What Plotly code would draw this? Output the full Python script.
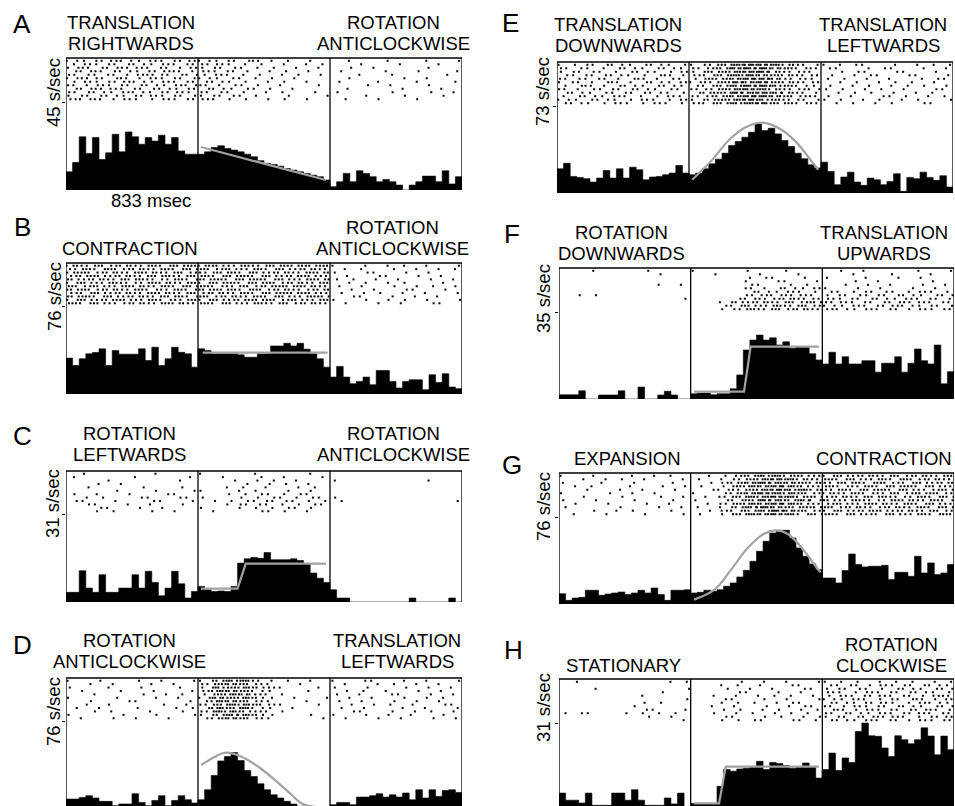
import plotly.graph_objects as go

# ---------------- DATA ----------------
SECTION_MS = 2500.0 / 3          # each stimulus epoch = 833 msec
N_BINS = 60
BIN_MS = 2500.0 / N_BINS
RASTER_WIN_MS = 2500.0 / 30

panel_ids = ["A", "B", "C", "D", "E", "F", "G", "H"]
full_scale = [45, 76, 31, 76, 73, 35, 76, 31]           # s/sec at the scale tick
scale_text = ["45 s/sec", "76 s/sec", "31 s/sec", "76 s/sec",
              "73 s/sec", "35 s/sec", "76 s/sec", "31 s/sec"]
title_left = [["TRANSLATION", "RIGHTWARDS"], ["CONTRACTION"], ["ROTATION", "LEFTWARDS"],
              ["ROTATION", "ANTICLOCKWISE"], ["TRANSLATION", "DOWNWARDS"],
              ["ROTATION", "DOWNWARDS"], ["EXPANSION"], ["STATIONARY"]]
title_right = [["ROTATION", "ANTICLOCKWISE"], ["ROTATION", "ANTICLOCKWISE"],
               ["ROTATION", "ANTICLOCKWISE"], ["TRANSLATION", "LEFTWARDS"],
               ["TRANSLATION", "LEFTWARDS"], ["TRANSLATION", "UPWARDS"],
               ["CONTRACTION"], ["ROTATION", "CLOCKWISE"]]
time_label = "833 msec"

# peri-stimulus histograms (s/sec), 60 bins: 20 per epoch
hist_A = [9.3, 14.1, 27.2, 18.7, 26.8, 15.6, 19.0, 28.5, 19.5, 29.7, 27.2, 23.4, 26.8, 25.0, 28.0, 23.4, 26.8, 20.0, 18.3, 18.3,
          18.3, 19.5, 21.7, 22.6, 21.2, 20.4, 19.5, 18.3, 17.0, 15.0, 13.6, 13.1, 12.2, 11.0, 10.2, 9.3, 8.5, 7.6, 6.8, 5.1,
          1.7, 4.2, 8.5, 4.2, 9.8, 8.5, 6.8, 4.2, 5.4, 4.2, 2.5, 0.0, 2.5, 4.2, 7.1, 7.1, 4.2, 9.8, 3.1, 6.8]
hist_B = [31.0, 24.6, 30.4, 34.7, 35.8, 39.0, 24.6, 37.5, 34.4, 34.4, 34.4, 39.0, 28.9, 40.4, 24.6, 30.4, 40.4, 36.0, 34.7, 23.2,
          39.0, 37.5, 34.7, 34.7, 34.7, 34.7, 33.8, 31.8, 31.8, 34.7, 34.7, 41.5, 41.5, 43.8, 41.5, 43.8, 38.7, 34.7, 30.4, 23.2,
          14.6, 23.8, 14.6, 8.9, 10.9, 14.6, 8.0, 20.3, 20.3, 10.9, 5.2, 10.9, 12.3, 12.3, 3.7, 16.6, 10.0, 17.5, 6.0, 4.6]
hist_C = [3.4, 3.4, 11.0, 4.9, 3.4, 9.6, 3.4, 3.4, 4.9, 4.9, 9.6, 4.9, 10.8, 6.9, 2.2, 4.9, 10.8, 6.4, 1.4, 3.7,
          5.5, 4.3, 3.7, 3.9, 3.7, 5.5, 13.7, 15.2, 15.7, 15.4, 17.4, 14.9, 14.9, 14.9, 15.2, 14.6, 13.5, 10.2, 8.4, 6.9,
          4.3, 1.4, 1.4, 0.0, 0.0, 0.0, 0.0, 0.0, 0.0, 0.0, 0.0, 0.0, 1.4, 0.0, 0.0, 0.0, 0.0, 0.0, 1.4, 0.0]
hist_D = [8.6, 8.6, 10.0, 11.5, 9.5, 6.6, 6.6, 2.9, 4.3, 4.3, 13.2, 5.7, 2.9, 7.4, 11.5, 2.9, 7.4, 11.5, 8.0, 5.2,
          8.0, 16.6, 29.0, 41.5, 45.3, 48.7, 41.8, 33.2, 28.0, 21.8, 16.6, 12.3, 9.5, 6.6, 4.3, 2.3, 0.9, 0.5, 0.3, 0.3,
          3.7, 5.7, 5.7, 3.7, 10.3, 10.3, 11.5, 13.2, 10.3, 12.3, 10.3, 13.8, 8.0, 16.6, 9.5, 16.6, 10.9, 16.0, 16.6, 14.3]
hist_E = [20.3, 25.0, 13.9, 13.1, 12.0, 9.2, 12.5, 18.9, 12.5, 20.3, 12.5, 21.7, 19.5, 11.1, 13.4, 13.9, 15.3, 16.7, 23.1, 16.7,
          15.3, 16.7, 20.3, 24.5, 28.4, 33.4, 39.8, 43.2, 46.8, 51.0, 57.9, 52.4, 54.3, 49.6, 44.0, 39.0, 33.4, 28.7, 23.7, 21.0,
          25.9, 18.1, 7.0, 13.4, 17.5, 9.2, 6.4, 12.5, 11.1, 7.0, 9.7, 16.2, 1.4, 13.1, 12.0, 17.5, 13.1, 10.6, 14.5, 5.0]
hist_F = [1.7, 1.7, 1.7, 3.3, 0.0, 0.0, 1.6, 1.6, 1.6, 3.3, 0.0, 0.0, 4.8, 0.0, 0.0, 1.6, 3.1, 1.6, 0.0, 0.0,
          2.1, 2.4, 2.4, 1.7, 2.1, 2.1, 4.1, 9.7, 19.7, 23.7, 25.7, 23.7, 24.6, 21.7, 23.0, 20.4, 21.0, 21.0, 18.2, 15.7,
          14.1, 18.8, 14.1, 17.0, 14.1, 14.1, 15.4, 15.4, 10.8, 14.4, 14.4, 17.0, 10.8, 14.4, 20.1, 15.4, 14.1, 21.7, 6.1, 11.0]
hist_G = [9.0, 3.2, 5.2, 5.8, 12.0, 12.0, 7.6, 8.7, 9.6, 10.5, 8.2, 9.6, 12.0, 9.6, 14.0, 8.2, 3.2, 12.0, 12.0, 12.5,
          9.6, 10.2, 12.0, 11.1, 12.5, 15.5, 18.4, 23.6, 29.4, 37.3, 46.0, 54.8, 62.0, 64.4, 64.4, 57.7, 49.0, 41.7, 35.0, 30.0,
          22.7, 22.7, 18.4, 29.2, 43.7, 34.4, 32.4, 33.0, 33.0, 33.8, 21.3, 27.7, 27.7, 24.2, 41.7, 27.1, 35.9, 25.7, 27.1, 34.4]
hist_H = [6.3, 3.8, 3.8, 2.8, 6.3, 2.0, 2.0, 2.0, 6.3, 6.3, 3.8, 7.5, 3.8, 2.0, 2.0, 2.0, 4.6, 2.5, 6.3, 1.5,
          2.6, 2.6, 2.6, 2.6, 8.7, 14.6, 14.0, 14.8, 15.1, 15.7, 17.5, 14.6, 17.1, 16.7, 16.0, 15.1, 15.5, 16.9, 15.7, 11.6,
          14.6, 20.4, 14.3, 18.7, 17.1, 28.0, 31.0, 26.5, 26.3, 22.2, 19.2, 26.5, 25.1, 23.7, 25.1, 29.3, 26.4, 19.8, 26.4, 21.6]

# fitted responses in the middle epoch (time ms, s/sec)
fit_A_t = [852, 1641];                 fit_A_v = [22.0, 5.1]
fit_B_t = [863, 1651];                 fit_B_v = [35.7, 35.7]
fit_C_t = [852, 1083, 1135, 1641];     fit_C_v = [4.7, 4.7, 13.5, 13.5]
fit_D_t = [853, 941, 1004, 1109, 1214, 1320, 1425, 1498, 1656]
fit_D_v = [38.0, 45.2, 48.6, 45.2, 36.5, 25.0, 12.1, 4.0, 1.0]
fit_E_t = [854, 980, 1086, 1191, 1296, 1401, 1507, 1612, 1649]
fit_E_v = [11.1, 27.8, 44.5, 55.1, 59.0, 54.3, 43.1, 25.8, 19.5]
fit_F_t = [854, 1171, 1213, 1645];     fit_F_v = [3.0, 3.0, 21.1, 21.1]
fit_G_t = [855, 984, 1089, 1194, 1298, 1372, 1446, 1529, 1613, 1655]
fit_G_v = [3.8, 12.5, 30.0, 48.9, 61.4, 64.3, 61.4, 50.3, 35.2, 27.6]
fit_H_t = [854, 1013, 1055, 1645];     fit_H_v = [2.7, 2.7, 15.6, 15.6]
fit_smooth = [False, False, False, True, True, False, True, False]

# rasters: 12 trials, spike counts per 83-msec window (30 windows; | separates epochs)
raster_A = ["2122212122|2121211010|0100100101", "1212121212|2211101011|0010010010",
            "2212221212|1211110101|0101000100", "1221212221|2121011010|1000101001",
            "2112122212|1211101101|0010100010", "2221212121|2111110100|0100010100",
            "1212221212|1211011010|1001001001", "2121212122|2111101001|0010100100",
            "1222121212|1211110100|0100010010", "2121221221|2111011010|1000100101",
            "1212122121|1211101001|0010010010", "2221211212|2111011010|0101001000"]
raster_B = ["3232323233|3323233333|1010110101", "2323232323|3232323232|0110101011",
            "3323233232|2332323233|1011010100", "2332323323|3233232332|0101101010",
            "3232332232|3323323233|1101010101", "2323223323|2332332323|0110110010",
            "3232332323|3223233332|1010101101", "3323232232|3332323223|0101011010",
            "2232323323|2323233332|1011010101", "3323232332|3232323233|0110101010",
            "2323323223|2323332323|1010110101", "3232232332|3232323232|0101010110"]
raster_C = ["0100001000|1000100010|0000000000", "1000010001|0100101001|0000000000",
            "0001000010|0010110100|1000000100", "0010100000|0001011010|0000000000",
            "0100010010|0011010110|0000000000", "0001001001|1001101010|0000000000",
            "1010100110|0011111110|0000000000", "0110011011|1001111111|1000000000",
            "1101001101|0111121111|1000000001", "0110101010|0012111111|0000000000",
            "0011010100|1001111110|0000000000", "0011001010|0100111010|0000000000"]
raster_D = ["1010010101|1344211010|1011010101", "0101001010|2343210100|0101101010",
            "1001010010|1434321001|1010010101", "0100101001|2443210010|0110101010",
            "0010010110|1344211000|1010110101", "1001001010|2434310101|0101010110",
            "0100110001|1443210010|1010101010", "0101000101|2344321001|0101101011",
            "1010010011|1434210100|1010010101", "0011001010|2443211000|0110101101",
            "1000101001|1344310010|1010101010", "0101010100|1343210001|0101010101"]
raster_E = ["1121211211|1234554321|1111010111", "2111121121|2235554322|1101110101",
            "1211112112|1334553221|0111011010", "1121211121|2234543322|1011101101",
            "2112112111|1334554221|1101010111", "1211211212|2235453322|0110111010",
            "1121121121|1234554321|1011011101", "2111212111|2234543222|1101101011",
            "1211121211|1335454321|0111010110", "1121211121|2234554322|1010111011",
            "2112112112|1334543221|1101101101", "1211211211|2234453322|0110110110"]
raster_F = ["0010001000|1000100100|0101000101", "0000000100|0100010010|0010010010",
            "0000000000|0000111010|1001010100", "0000000000|0000101101|0010100010",
            "0000000101|0000110110|0101010101", "0000000000|0000211212|1010101010",
            "0000000000|0000121211|1112111211", "0110000000|0000222221|1211212112",
            "0000000001|0001222322|2121212121", "0000000000|0013232323|2212122212",
            "0000000000|0012323232|2121222121", "0000000000|0012323232|2212121212"]
raster_G = ["1010010110|0112344332|2323232323", "0101101001|1012345432|3232323232",
            "1001010010|0123454433|2332322323", "0110010101|1013445432|3223233232",
            "0010101010|0122345443|2323323223", "1001010100|1013454432|3232232332",
            "0100100101|0123445433|2323322323", "1010010010|1012354342|3232233232",
            "0101001010|0123445432|2323323232", "1000100101|1013454333|3232232323",
            "0010110010|0122345432|2323323232", "0101001001|1013445423|3232232323"]
raster_H = ["0100000011|0001010101|1110111011", "0000000000|0011010110|1121212121",
            "0010000001|0010101011|1211112112", "0000000100|0001101010|2112121211",
            "0000001000|0101011101|1212212122", "0000000001|0011010101|2121121212",
            "0000001100|0011101110|1212211221", "0000010000|0101010111|2121212112",
            "0000001101|0011011011|1212121221", "1110011110|0101101110|2121212212",
            "0000001010|0011011011|1212221122", "0000000001|0011110111|1212121212"]

hists = [hist_A, hist_B, hist_C, hist_D, hist_E, hist_F, hist_G, hist_H]
fits = [(fit_A_t, fit_A_v), (fit_B_t, fit_B_v), (fit_C_t, fit_C_v), (fit_D_t, fit_D_v),
        (fit_E_t, fit_E_v), (fit_F_t, fit_F_v), (fit_G_t, fit_G_v), (fit_H_t, fit_H_v)]
rasters = [raster_A, raster_B, raster_C, raster_D, raster_E, raster_F, raster_G, raster_H]

# ---------------- LAYOUT (pixel geometry, style only) ----------------
W, H = 955, 806
FONT = "Liberation Sans, Arial, Helvetica, sans-serif"
geom = [  # x0, x3, top, tick, base, letter(x,y), scale(x,y), titleLx, titleRx, title baseline
    dict(x0=66, x3=462, top=58, tick=102, base=190, let=(22, 24), sc=(53, 93), tl=131, tr=393, tb=50),
    dict(x0=66, x3=462, top=263, tick=306, base=394, let=(22, 227), sc=(54, 297), tl=130, tr=392, tb=255),
    dict(x0=66, x3=462, top=471, tick=514, base=602, let=(22, 436), sc=(52, 504), tl=129, tr=393, tb=461),
    dict(x0=66, x3=462, top=678, tick=721, base=809, let=(22, 645), sc=(53, 712), tl=129, tr=397, tb=668),
    dict(x0=557, x3=953, top=62, tick=106, base=193, let=(510, 23), sc=(543, 92), tl=618, tr=883, tb=52),
    dict(x0=559, x3=954, top=268, tick=312, base=399, let=(512, 234), sc=(543, 299), tl=621, tr=884, tb=260),
    dict(x0=559, x3=954, top=473, tick=517, base=604, let=(512, 465), sc=(543, 507), tl=627, tr=884, tb=465),
    dict(x0=559, x3=954, top=679, tick=723, base=811, let=(513, 650), sc=(543, 708), tl=623, tr=891, tb=672),
]
TITLE_FS = 18.5
LINE_GAP = 21


def px(x):
    return x / W


def py(y):
    return 1 - y / H


fig = go.Figure()
layout = dict(width=W, height=H, margin=dict(l=0, r=0, t=0, b=0), autosize=False,
              paper_bgcolor="white", plot_bgcolor="rgba(0,0,0,0)", showlegend=False,
              font=dict(family=FONT, color="black"))
shapes, annotations = [], []

for i, pid in enumerate(panel_ids):
    g = geom[i]
    V = full_scale[i]
    xi = i + 1
    yh = 2 * i + 1
    yr = 2 * i + 2
    xname = "x" if xi == 1 else f"x{xi}"
    yhname = "y" if yh == 1 else f"y{yh}"
    yrname = f"y{yr}"
    s = (g["base"] - g["tick"]) / V
    bottom = min(g["base"], H)
    ymax = V + (g["tick"] - g["top"]) / s
    ymin = (g["base"] - bottom) / s

    layout["xaxis" if xi == 1 else f"xaxis{xi}"] = dict(
        domain=[px(g["x0"]), px(g["x3"])], range=[0, 2500], visible=False,
        anchor=yhname, fixedrange=True)
    layout["yaxis" if yh == 1 else f"yaxis{yh}"] = dict(
        domain=[py(bottom), py(g["top"])], range=[ymin, ymax], anchor=xname,
        showgrid=False, zeroline=False, showline=False, showticklabels=False,
        ticks="outside", tickvals=[V], ticklen=3, tickwidth=1.2, tickcolor="black")
    layout[f"yaxis{yr}"] = dict(
        domain=[py(g["tick"]), py(g["top"])], range=[11.8, -0.8], anchor=xname,
        visible=False)

    # histogram as filled step
    h = hists[i]
    xs = [k * BIN_MS for k in range(N_BINS)] + [N_BINS * BIN_MS]
    ys = list(h) + [h[-1]]
    fig.add_trace(go.Scatter(x=xs, y=ys, mode="lines", line=dict(shape="hv", width=0.6, color="black"),
                             fill="tozeroy", fillcolor="black", xaxis=xname, yaxis=yhname,
                             hoverinfo="skip"))
    # fitted curve
    ft, fv = fits[i]
    fig.add_trace(go.Scatter(x=ft, y=fv, mode="lines",
                             line=dict(color="#a2a2a2", width=2.2,
                                       shape="spline" if fit_smooth[i] else "linear"),
                             xaxis=xname, yaxis=yhname, hoverinfo="skip"))
    # raster
    rx, ry = [], []
    for r, row in enumerate(rasters[i]):
        counts = row.replace("|", "")
        for c, ch in enumerate(counts):
            n = int(ch)
            for k in range(n):
                off = (((r * 37 + c * 53 + k * 17) % 23) - 11) / 23.0 * 0.8
                rx.append(c * RASTER_WIN_MS + RASTER_WIN_MS * (k + 0.5 + off) / n)
                ry.append(r)
    fig.add_trace(go.Scatter(x=rx, y=ry, mode="markers",
                             marker=dict(symbol="square", size=2, color="black", line=dict(width=0)),
                             xaxis=xname, yaxis=yrname, hoverinfo="skip"))

    # frame: vertical borders & epoch dividers, top edge
    dref = f"{yhname} domain"
    for t in [0, SECTION_MS, 2 * SECTION_MS, 2500]:
        shapes.append(dict(type="line", xref=xname, yref=dref, x0=t, x1=t, y0=0, y1=1,
                           line=dict(color="black", width=1.3)))
    shapes.append(dict(type="line", xref=xname, yref=dref, x0=0, x1=2500, y0=1, y1=1,
                       line=dict(color="black", width=1.5)))

    # texts
    annotations.append(dict(text=pid, x=px(g["let"][0]), y=py(g["let"][1]), xref="paper", yref="paper",
                            showarrow=False, xanchor="center", yanchor="middle",
                            font=dict(size=26, family=FONT)))
    annotations.append(dict(text=scale_text[i], x=px(g["sc"][0]), y=py(g["sc"][1]), xref="paper",
                            yref="paper", showarrow=False, textangle=-90, xanchor="center",
                            yanchor="middle", font=dict(size=TITLE_FS, family=FONT)))
    for lines, cx in [(title_left[i], g["tl"]), (title_right[i], g["tr"])]:
        n = len(lines)
        for j, line in enumerate(lines):
            base_y = g["tb"] - (n - 1 - j) * LINE_GAP
            annotations.append(dict(text=line, x=px(cx), y=py(base_y - 0.36 * TITLE_FS),
                                    xref="paper", yref="paper", showarrow=False,
                                    xanchor="center", yanchor="middle",
                                    font=dict(size=TITLE_FS, family=FONT)))

annotations.append(dict(text=time_label, x=px(151), y=py(200), xref="paper", yref="paper",
                        showarrow=False, xanchor="center", yanchor="middle",
                        font=dict(size=TITLE_FS, family=FONT)))

layout["shapes"] = shapes
layout["annotations"] = annotations
fig.update_layout(**layout)
fig.write_html("out.html", config={"displayModeBar": False},
               post_script="document.body.style.margin='0px';document.body.style.padding='0px';"
                           "document.body.style.overflow='hidden';")
